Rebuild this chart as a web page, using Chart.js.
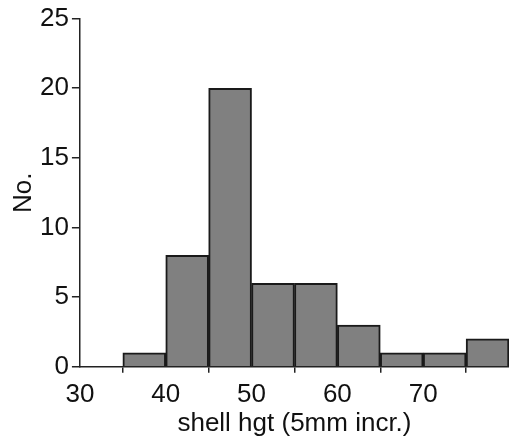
<!DOCTYPE html>
<html>
<head>
<meta charset="utf-8">
<script src="https://cdn.jsdelivr.net/npm/chart.js@4"></script>
<style>
  body { margin: 0; background: #fff; }
  #wrap { width: 509px; height: 441px; }
</style>
</head>
<body>
<div id="wrap"><canvas id="graficoHist"></canvas></div>
<script>
// bins are 5mm wide, value = bin centre
var binCentro = [37.5, 42.5, 47.5, 52.5, 57.5, 62.5, 67.5, 72.5, 77.5]
var contagem = [1, 8, 20, 6, 6, 3, 1, 1, 2]
var ticksX = [30, 40, 50, 60, 70, 80]
var ticksY = [0, 5, 10, 15, 20, 25]

var fonte = "'Liberation Sans', Arial, sans-serif"
var pontos = []
for (var i = 0; i < binCentro.length; i++) {
  pontos.push({ x: binCentro[i], y: contagem[i] })
}

var ctx = document.getElementById('graficoHist')

var graficoHist = new Chart(ctx, {
  type: 'bar',
  data: {
    datasets: [{
      label: 'No.',
      data: pontos,
      backgroundColor: '#808080',
      borderColor: '#1a1a1a',
      borderWidth: 2,
      barPercentage: 1,
      categoryPercentage: 1
    }]
  },
  options: {
    responsive: true,
    maintainAspectRatio: false,
    animation: false,
    layout: { padding: { top: 5, right: 0, left: 11, bottom: 0 } },
    plugins: { legend: { display: false }, tooltip: { enabled: false } },
    scales: {
      x: {
        type: 'linear',
        offset: false,
        min: 30,
        max: 80,
        afterBuildTicks: function (axis) {
          axis.ticks = ticksX.map(function (v) { return { value: v } })
        },
        grid: { drawOnChartArea: false, drawTicks: true, tickLength: 6, color: '#222', lineWidth: 1.5 },
        border: { color: '#222', width: 1.5 },
        ticks: {
          color: '#111',
          // tall line height pushes labels down without adding side padding
          font: { family: fonte, size: 26, lineHeight: 1.7 },
          padding: 0,
          maxRotation: 0,
          autoSkip: false,
          callback: function (v) { return v == 80 ? '' : v }
        },
        title: {
          display: true,
          text: 'shell hgt (5mm incr.)',
          color: '#111',
          font: { family: fonte, size: 26, lineHeight: 1 },
          padding: { top: -6, bottom: 4 }
        }
      },
      y: {
        min: 0,
        max: 25,
        afterBuildTicks: function (axis) {
          axis.ticks = ticksY.map(function (v) { return { value: v } })
        },
        grid: { drawOnChartArea: false, drawTicks: true, tickLength: 8, color: '#222', lineWidth: 1.5 },
        border: { color: '#222', width: 1.5 },
        ticks: {
          color: '#111',
          font: { family: fonte, size: 26 },
          padding: 3
        },
        title: {
          display: true,
          text: 'No.',
          color: '#111',
          font: { family: fonte, size: 26, lineHeight: 1 },
          padding: { top: 0, bottom: 0 }
        }
      }
    }
  }
})
</script>
</body>
</html>
